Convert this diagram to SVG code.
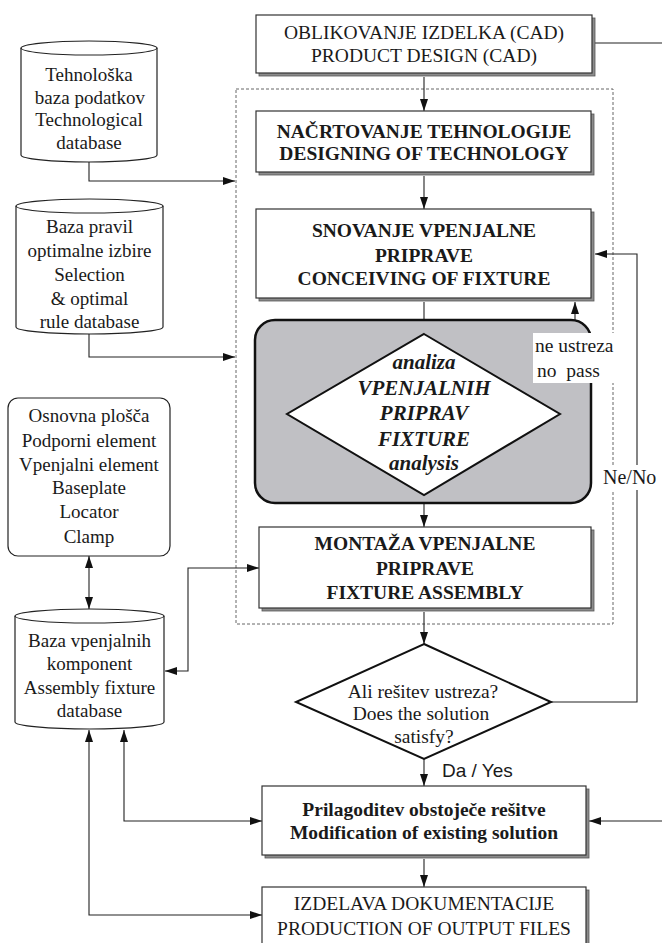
<svg xmlns="http://www.w3.org/2000/svg" width="662" height="943" viewBox="0 0 662 943">
<style>
  .t { font-family: "Liberation Serif", "Times New Roman", serif; font-size: 19.5px; fill: #1a1a1a; text-anchor: middle; }
  .b { font-weight: bold; }
  .bi { font-weight: bold; font-style: italic; font-size: 21px; }
  .db { font-size: 19px; }
  .sans { font-family: "Liberation Sans", Arial, sans-serif; font-size: 19px; fill: #1a1a1a; }
  .box { fill: #ffffff; stroke: #333333; stroke-width: 1.2; }
  .shadow { fill: #8c8c8c; stroke: #555555; stroke-width: 0.8; }
  .cyl { fill: #ffffff; stroke: #222222; stroke-width: 1.2; }
  .ln { fill: none; stroke: #222222; stroke-width: 1.1; }
  .dash { fill: none; stroke: #666666; stroke-width: 1; stroke-dasharray: 3 2; }
</style>
<defs>
  <marker id="ah" viewBox="0 0 12 8" refX="12" refY="4" markerWidth="12" markerHeight="8" markerUnits="userSpaceOnUse" orient="auto-start-reverse">
    <path d="M0,0 L12,4 L0,8 Z" fill="#111111"/>
  </marker>
</defs>

<!-- dashed container -->
<rect class="dash" x="236" y="89" width="377" height="535"/>

<!-- connectors -->
<g id="connectors">
  <path class="ln" d="M424,77 L424,111" marker-end="url(#ah)"/>
  <path class="ln" d="M424,176 L424,209" marker-end="url(#ah)"/>
  <path class="ln" d="M424,302 L424,334" marker-end="url(#ah)"/>
  <path class="ln" d="M424,495 L424,527" marker-end="url(#ah)"/>
  <path class="ln" d="M424,612 L424,644" marker-end="url(#ah)"/>
  <path class="ln" d="M424,759 L424,786" marker-end="url(#ah)"/>
  <path class="ln" d="M424,859 L424,887" marker-end="url(#ah)"/>
  <path class="ln" d="M560,414 L575,414 L575,302" marker-end="url(#ah)"/>
  <path class="ln" d="M551,702 L637,702 L637,254 L595,254" marker-end="url(#ah)"/>
  <path class="ln" d="M595,43 L662,43"/>
  <path class="ln" d="M662,821 L589,821" marker-end="url(#ah)"/>
  <path class="ln" d="M89,162 L89,181 L235,181" marker-end="url(#ah)"/>
  <path class="ln" d="M89,334 L89,357 L235,357" marker-end="url(#ah)"/>
  <path class="ln" d="M89,556 L89,609" marker-start="url(#ah)" marker-end="url(#ah)"/>
  <path class="ln" d="M165,671 L188,671 L188,568 L259,568" marker-start="url(#ah)" marker-end="url(#ah)"/>
  <path class="ln" d="M124,730 L124,821 L262,821" marker-start="url(#ah)" marker-end="url(#ah)"/>
  <path class="ln" d="M89,730 L89,915 L262,915" marker-start="url(#ah)" marker-end="url(#ah)"/>
</g>

<!-- Product design -->
<g id="product-design">
  <rect class="shadow" x="259" y="18" width="336" height="58"/>
  <rect class="box" x="256" y="15" width="336" height="58"/>
  <text class="t" x="424" y="38.5">OBLIKOVANJE IZDELKA (CAD)</text>
  <text class="t" x="424" y="61.5">PRODUCT DESIGN (CAD)</text>
</g>

<!-- Designing of technology -->
<g id="designing-technology">
  <rect class="shadow" x="259" y="114" width="335" height="61"/>
  <rect class="box" x="256" y="111" width="335" height="61"/>
  <text class="t b" x="424" y="137.5">NAČRTOVANJE TEHNOLOGIJE</text>
  <text class="t b" x="424" y="160">DESIGNING OF TECHNOLOGY</text>
</g>

<!-- Conceiving of fixture -->
<g id="conceiving-fixture">
  <rect class="shadow" x="259" y="212" width="335" height="89"/>
  <rect class="box" x="256" y="209" width="335" height="89"/>
  <text class="t b" x="424" y="237">SNOVANJE VPENJALNE</text>
  <text class="t b" x="424" y="261.5">PRIPRAVE</text>
  <text class="t b" x="424" y="285">CONCEIVING OF FIXTURE</text>
</g>

<!-- Fixture analysis -->
<g id="fixture-analysis">
  <rect x="255" y="320" width="336" height="183" rx="20" ry="20" fill="#c0c0c4" stroke="#111111" stroke-width="2.5"/>
  <polygon points="424,334 560,414 424,495 287,414" fill="#ffffff" stroke="#111111" stroke-width="2"/>
  <text class="t bi" x="424" y="369">analiza</text>
  <text class="t bi" x="424" y="395">VPENJALNIH</text>
  <text class="t bi" x="424" y="420">PRIPRAV</text>
  <text class="t bi" x="424" y="446">FIXTURE</text>
  <text class="t bi" x="424" y="470">analysis</text>
</g>

<!-- no pass label -->
<g id="no-pass-label">
  <rect x="533" y="333" width="81" height="50" fill="#ffffff"/>
  <text class="t" x="535" y="352" style="text-anchor:start">ne ustreza</text>
  <text class="t" x="537" y="377" style="text-anchor:start;white-space:pre">no  pass</text>
</g>

<!-- Fixture assembly -->
<g id="fixture-assembly">
  <rect class="shadow" x="262" y="530" width="332" height="81"/>
  <rect class="box" x="259" y="527" width="332" height="81"/>
  <text class="t b" x="425" y="550">MONTAŽA VPENJALNE</text>
  <text class="t b" x="425" y="575">PRIPRAVE</text>
  <text class="t b" x="425" y="599">FIXTURE ASSEMBLY</text>
</g>

<!-- Ne/No label -->
<g id="ne-no-label">
  <rect x="601" y="465" width="61" height="25" fill="#ffffff"/>
  <text class="t" x="603" y="484" style="text-anchor:start;font-size:20px">Ne/No</text>
</g>

<!-- Decision -->
<g id="solution-decision">
  <polygon points="424,644 551,702 424,759 296,702" fill="#ffffff" stroke="#111111" stroke-width="2"/>
  <text class="t" x="423" y="698">Ali rešitev ustreza?</text>
  <text class="t" x="421" y="720">Does the solution</text>
  <text class="t" x="424" y="743">satisfy?</text>
</g>

<text class="sans" x="442" y="777">Da / Yes</text>

<!-- Modification -->
<g id="modification">
  <rect class="shadow" x="265" y="789" width="324" height="69"/>
  <rect class="box" x="262" y="786" width="324" height="69"/>
  <text class="t b" x="424" y="816">Prilagoditev obstoječe rešitve</text>
  <text class="t b" x="424" y="839">Modification of existing solution</text>
</g>

<!-- Output files -->
<g id="output-files">
  <rect class="shadow" x="265" y="890" width="324" height="70"/>
  <rect class="box" x="262" y="887" width="324" height="70"/>
  <text class="t" x="424" y="909.5">IZDELAVA DOKUMENTACIJE</text>
  <text class="t" x="424" y="934.5">PRODUCTION OF OUTPUT FILES</text>
</g>

<!-- Technological database -->
<g id="technological-db">
  <path class="cyl" d="M21,48 A68,7 0 0,1 157,48 L157,155 A68,7 0 0,1 21,155 Z"/>
  <path class="ln" d="M21,48 A68,7 0 0,0 157,48"/>
  <text class="t db" x="89" y="81">Tehnološka</text>
  <text class="t db" x="90" y="103.5">baza podatkov</text>
  <text class="t db" x="89" y="126">Technological</text>
  <text class="t db" x="89" y="148.5">database</text>
</g>

<!-- Rule database -->
<g id="rule-db">
  <path class="cyl" d="M16,206 A73.5,7 0 0,1 163,206 L163,327 A73.5,7 0 0,1 16,327 Z"/>
  <path class="ln" d="M16,206 A73.5,7 0 0,0 163,206"/>
  <text class="t db" x="89.5" y="233">Baza pravil</text>
  <text class="t db" x="89.5" y="257">optimalne izbire</text>
  <text class="t db" x="89.5" y="281">Selection</text>
  <text class="t db" x="89.5" y="305">&amp; optimal</text>
  <text class="t db" x="89.5" y="328">rule database</text>
</g>

<!-- Components -->
<g id="components">
  <rect x="8" y="398" width="162" height="158" rx="10" ry="10" fill="#ffffff" stroke="#222222" stroke-width="1.2"/>
  <text class="t db" x="89" y="422">Osnovna plošča</text>
  <text class="t db" x="89" y="447">Podporni element</text>
  <text class="t db" x="89" y="471">Vpenjalni element</text>
  <text class="t db" x="89" y="494">Baseplate</text>
  <text class="t db" x="89" y="518">Locator</text>
  <text class="t db" x="89" y="543">Clamp</text>
</g>

<!-- Assembly fixture database -->
<g id="assembly-db">
  <path class="cyl" d="M15,616 A74.5,7 0 0,1 164,616 L164,722 A74.5,7 0 0,1 15,722 Z"/>
  <path class="ln" d="M15,616 A74.5,7 0 0,0 164,616"/>
  <text class="t db" x="89.5" y="647">Baza vpenjalnih</text>
  <text class="t db" x="89.5" y="670">komponent</text>
  <text class="t db" x="89.5" y="693.5">Assembly fixture</text>
  <text class="t db" x="89.5" y="717">database</text>
</g>
</svg>
